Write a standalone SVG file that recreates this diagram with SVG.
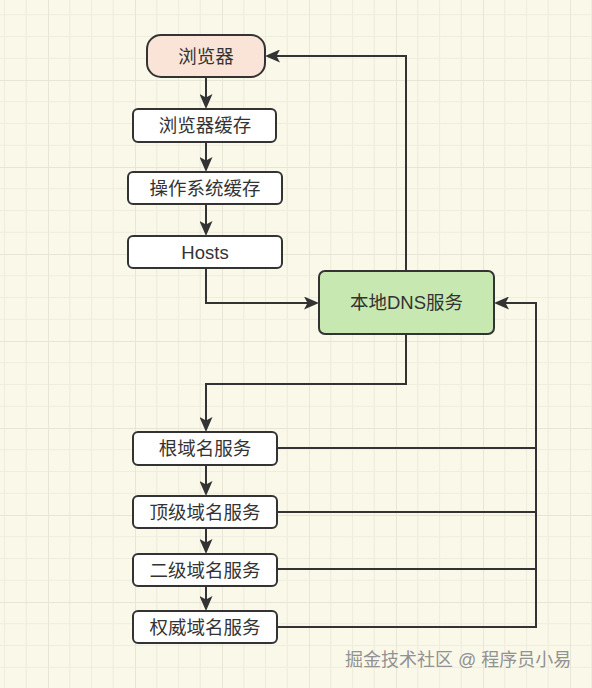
<svg xmlns="http://www.w3.org/2000/svg" width="592" height="688" viewBox="0 0 592 688">
<style>
.bg{fill:#FAF8E9}
.minor{stroke:#EFEDDD;stroke-width:1.2;fill:none}
.major{stroke:#E7E5D4;stroke-width:1.8;fill:none}
.box{stroke:#333333;stroke-width:2;fill:#FFFFFF}
.lbl{font-family:"Liberation Sans","Noto Sans CJK SC",sans-serif;font-size:18.5px;fill:#333333;text-anchor:middle;dominant-baseline:central}
.edge{stroke:#333333;stroke-width:2;fill:none}
.arrow{stroke:#333333;stroke-width:2;fill:none;marker-end:url(#ah)}
.wm{font-family:"Liberation Sans","Noto Sans CJK SC",sans-serif;font-size:18px;fill:#929292}
</style>
<defs>
<pattern id="grid" x="48" y="80" width="87" height="87" patternUnits="userSpaceOnUse">
<path class="minor" d="M21.75,0V87M43.5,0V87M65.25,0V87M0,21.75H87M0,43.5H87M0,65.25H87"/>
<path class="major" d="M0,0V87M0,0H87"/>
</pattern>
<marker id="ah" viewBox="0 0 15 13" refX="12" refY="6.5" markerWidth="15" markerHeight="13" markerUnits="userSpaceOnUse" orient="auto">
<path d="M0,0 L15,6.5 L0,13 L3.5,6.5 Z" fill="#333333"/>
</marker>
</defs>
<rect class="bg" x="0" y="0" width="592" height="688"/>
<rect x="0" y="0" width="592" height="688" fill="url(#grid)"/>

<g id="connectors">
<path class="arrow" d="M206,77 V106"/>
<path class="arrow" d="M206,142 V169"/>
<path class="arrow" d="M206,204 V233"/>
<path class="arrow" d="M206,268 V303 H316"/>
<path class="arrow" d="M406,271 V56 H268"/>
<path class="arrow" d="M406,334 V384 H206 V429"/>
<path class="arrow" d="M206,465 V493"/>
<path class="arrow" d="M206,528 V551"/>
<path class="arrow" d="M206,586 V608"/>
<path class="edge" d="M277,448 H536"/>
<path class="edge" d="M277,512 H536"/>
<path class="edge" d="M277,569 H536"/>
<path class="arrow" d="M277,627 H536 V303 H497"/>
</g>

<g id="browser">
<rect class="box" x="147" y="35" width="118" height="42" rx="14" style="fill:#FAE4D8"/>
<text class="lbl" x="206" y="56">浏览器</text>
</g>
<g id="browser-cache">
<rect class="box" x="133" y="109" width="143" height="33" rx="5"/>
<text class="lbl" x="205" y="125.5">浏览器缓存</text>
</g>
<g id="os-cache">
<rect class="box" x="128" y="172" width="154" height="32" rx="5"/>
<text class="lbl" x="205" y="188">操作系统缓存</text>
</g>
<g id="hosts">
<rect class="box" x="128" y="236" width="154" height="32" rx="5"/>
<text class="lbl" x="205" y="252">Hosts</text>
</g>
<g id="local-dns">
<rect class="box" x="319" y="271" width="175" height="63" rx="6" style="fill:#C8E8B1"/>
<text class="lbl" x="406.5" y="302.5">本地DNS服务</text>
</g>
<g id="root">
<rect class="box" x="133" y="432" width="144" height="33" rx="5"/>
<text class="lbl" x="205" y="448.5">根域名服务</text>
</g>
<g id="tld">
<rect class="box" x="133" y="496" width="144" height="32" rx="5"/>
<text class="lbl" x="205" y="512">顶级域名服务</text>
</g>
<g id="sld">
<rect class="box" x="133" y="554" width="144" height="32" rx="5"/>
<text class="lbl" x="205" y="570">二级域名服务</text>
</g>
<g id="auth">
<rect class="box" x="133" y="611" width="144" height="32" rx="5"/>
<text class="lbl" x="205" y="627">权威域名服务</text>
</g>

<text class="wm" x="345" y="666">掘金技术社区 @ 程序员小易</text>
</svg>
